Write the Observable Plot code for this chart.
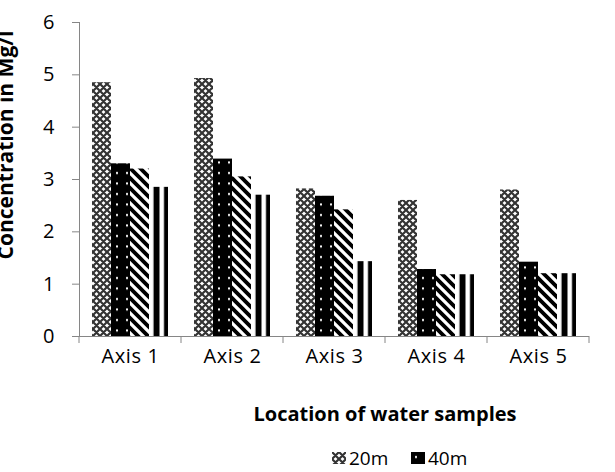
<!DOCTYPE html>
<html>
<head>
<meta charset="utf-8">
<script src="https://cdn.jsdelivr.net/npm/d3@7"></script>
<script src="https://cdn.jsdelivr.net/npm/@observablehq/plot@0.6"></script>
<style>
html, body { margin: 0; padding: 0; background: #fff; overflow: hidden; }
#wrap { position: relative; width: 615px; height: 472px; font-family: "Open Sans", sans-serif; color: #000; overflow: hidden; }
#xtitle { position: absolute; left: 385px; top: 400px; transform: translateX(-50%); font-weight: bold; font-size: 20px; line-height: 28px; white-space: nowrap; }
#ytitle { position: absolute; left: -145px; top: 135px; width: 300px; height: 20px; line-height: 20px; text-align: center; transform: rotate(-90deg); font-weight: bold; font-size: 21px; white-space: nowrap; }
#legend { position: absolute; left: 332px; top: 448px; width: 180px; display: flex; flex-wrap: wrap; row-gap: 30px; font-size: 19px; line-height: 20px; }
#legend .item { display: flex; align-items: center; width: 79px; height: 20px; }
#legend svg { margin-right: 3px; }
</style>
</head>
<body>
<svg width="0" height="0" style="position:absolute">
  <defs>
    <pattern id="p20" patternUnits="userSpaceOnUse" width="7" height="7">
      <rect width="7" height="7" fill="#fff"/>
      <path d="M0,0L7,7M7,0L0,7M-1,6L1,8M6,-1L8,1M-1,1L1,-1M6,8L8,6" stroke="#333" stroke-width="2.2"/>
    </pattern>
    <pattern id="p40" patternUnits="userSpaceOnUse" width="10" height="10.5">
      <rect width="10" height="10.5" fill="#000"/>
      <rect x="4" y="4" width="2" height="2" fill="#fff"/>
    </pattern>
    <pattern id="p60" patternUnits="userSpaceOnUse" width="10" height="10">
      <rect width="10" height="10" fill="#fff"/>
      <path d="M-5,5L5,15M0,0L10,10M5,-5L15,5" stroke="#000" stroke-width="3.8"/>
    </pattern>
    <pattern id="p80" patternUnits="userSpaceOnUse" width="10.5" height="10">
      <rect width="10.5" height="10" fill="#fff"/>
      <rect x="4.5" width="6" height="10" fill="#000"/>
    </pattern>
  </defs>
</svg>
<div id="wrap">
  <div id="chart"></div>
  <div id="ytitle"></div>
  <div id="xtitle">Location of water samples</div>
  <div id="legend"></div>
</div>
<script>
// Data
const groups = ["Axis 1", "Axis 2", "Axis 3", "Axis 4", "Axis 5"];
const series = ["20m", "40m", "60m", "80m"];
const v20m = [4.85, 4.93, 2.82, 2.60, 2.80];
const v40m = [3.30, 3.39, 2.68, 1.28, 1.42];
const v60m = [3.20, 3.05, 2.42, 1.18, 1.20];
const v80m = [2.85, 2.70, 1.43, 1.18, 1.20];
const yTicks = [0, 1, 2, 3, 4, 5, 6];
const yLabel = "Concentration in Mg/l";
const patternFills = ["url(#p20)", "url(#p40)", "url(#p60)", "url(#p80)"];

const values = [v20m, v40m, v60m, v80m];
const rows = [];
groups.forEach((g, i) => series.forEach((s, j) => rows.push({group: g, series: s, value: values[j][i]})));

const axisGray = "#868686";

const chart = Plot.plot({
  width: 615,
  height: 372,
  marginTop: 22,
  marginBottom: 36,
  marginLeft: 77,
  marginRight: 24,
  style: {fontFamily: "'Open Sans', sans-serif", fontSize: "20px", color: "#000", background: "#fff", overflow: "visible"},
  fx: {domain: groups, padding: 0, label: null, axis: null},
  x: {domain: series, paddingInner: 0, paddingOuter: 0.64, axis: null},
  y: {domain: [0, 6], axis: null},
  color: {domain: series, range: patternFills},
  marks: [
    Plot.barY(rows, {fx: "group", x: "series", y: "value", fill: "series"}),
    Plot.ruleY([0], {stroke: axisGray, strokeWidth: 1}),
    Plot.frame({anchor: "left", stroke: axisGray, facetAnchor: "left"}),
    Plot.axisY({ticks: yTicks, tickFormat: "d", tickSize: 7, tickPadding: 18, stroke: axisGray, fill: "#000", label: null}),
    Plot.axisFx({anchor: "bottom", tickSize: 0, tickPadding: 12, fill: "#000", label: null})
  ]
});
document.getElementById("chart").appendChild(chart);
document.getElementById("ytitle").textContent = yLabel;

// Category tick marks at the band boundaries, positioned by the fx scale
const fx = chart.scale("fx"), y = chart.scale("y");
const y0 = y.apply(0);
const bounds = groups.map(g => fx.apply(g)).concat([fx.apply(groups[groups.length - 1]) + fx.bandwidth]);
const svg = d3.select(chart);
svg.append("g").selectAll("line").data(bounds).join("line")
  .attr("x1", d => d).attr("x2", d => d)
  .attr("y1", y0).attr("y2", y0 + 7)
  .attr("stroke", axisGray);
svg.selectAll("g[aria-label='fx-axis tick label'] text").style("letter-spacing", "0.6px");

// Legend
const legend = d3.select("#legend");
series.forEach((s, j) => {
  const it = legend.append("div").attr("class", "item");
  const sw = it.append("svg").attr("width", 14).attr("height", 12);
  sw.append("rect").attr("width", 14).attr("height", 12).attr("fill", patternFills[j]);
  it.append("span").text(s);
});
</script>
</body>
</html>
